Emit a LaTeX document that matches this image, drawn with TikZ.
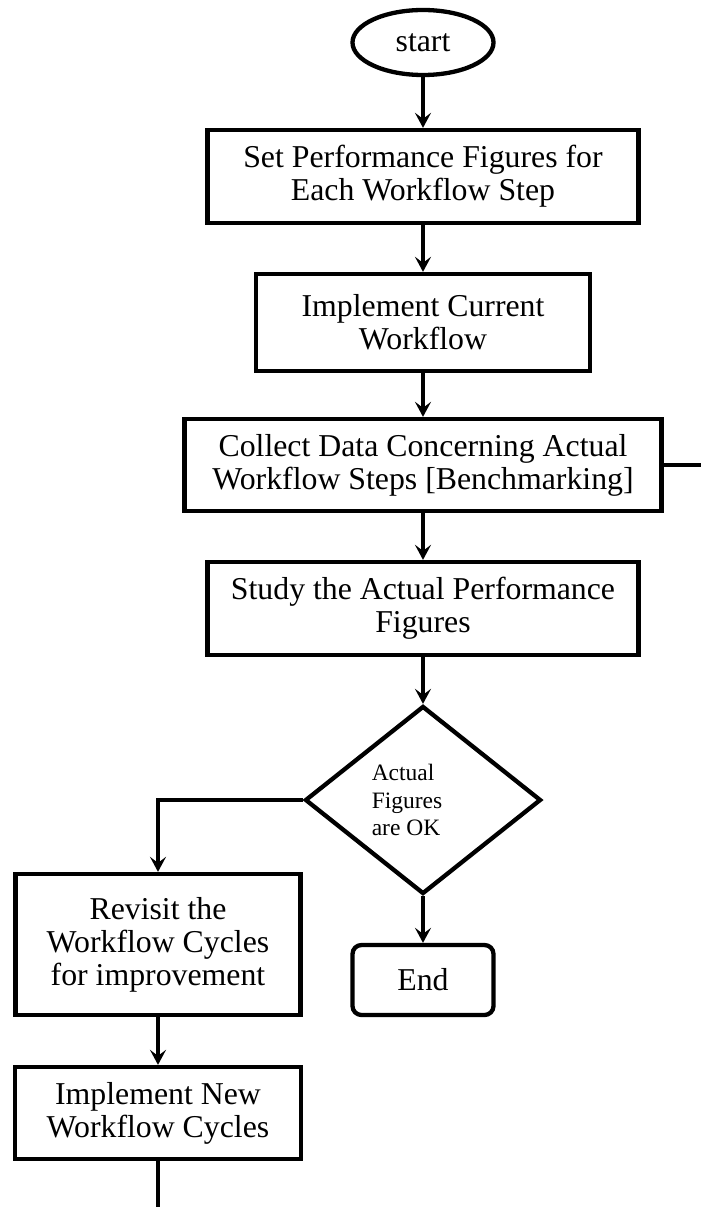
\documentclass[tikz,border=0pt]{standalone}
\usepackage{fontspec}
\setmainfont{Liberation Serif}
\usetikzlibrary{shapes.geometric,arrows.meta}
\tikzset{
  mainfont/.style={font=\fontsize{31.8}{33}\selectfont},
  procbox/.style={draw, line width=4.3pt, rectangle, align=center, inner sep=0pt, mainfont},
  termbox/.style={procbox, rounded corners=9pt},
  startshape/.style={draw, line width=4.3pt, ellipse, inner sep=0pt, mainfont},
  decision/.style={draw, line width=4.3pt, diamond, inner sep=0pt},
  dectxt/.style={align=left, inner sep=0pt, font=\fontsize{23.5}{27.5}\selectfont},
  flow/.style={line width=3.4pt, -{Stealth[length=15pt,width=16pt,inset=6pt]}},
  plainflow/.style={line width=3.4pt}
}
\begin{document}
\begin{tikzpicture}[x=1pt,y=-1pt]
\fill[white] (0,0) rectangle (701,1207);
\useasboundingbox (0,0) rectangle (701,1207);

\node[startshape, minimum width=141pt, minimum height=65pt] (start) at (423,42.5) {start};
\node[procbox, minimum width=431pt, minimum height=93pt] (b1) at (423,176.5) {Set Performance Figures for\\Each Workflow Step};
\node[procbox, minimum width=334pt, minimum height=97pt] (b2) at (423,322.5) {Implement Current\\Workflow};
\node[procbox, minimum width=477pt, minimum height=92pt] (b3) at (423,465) {Collect Data Concerning Actual\\Workflow Steps [Benchmarking]};
\node[procbox, minimum width=431pt, minimum height=93pt] (b4) at (423,608.5) {Study the Actual Performance\\Figures};
\node[decision, minimum width=236pt, minimum height=188pt] (dec) at (423,800) {};
\node[dectxt] (dectext) at (407,800) {Actual\\Figures\\are OK};
\node[procbox, minimum width=285pt, minimum height=141pt] (rev) at (158,944.5) {Revisit the\\Workflow Cycles\\for improvement};
\node[procbox, minimum width=286pt, minimum height=92pt] (impnew) at (158,1113) {Implement New\\Workflow Cycles};
\node[termbox, minimum width=141pt, minimum height=70pt] (end) at (423,980) {End};

\coordinate (rightend) at (701,465);
\coordinate (bottomend) at (158,1207);

\draw[flow] (start) -- (b1);
\draw[flow] (b1) -- (b2);
\draw[flow] (b2) -- (b3);
\draw[flow] (b3) -- (b4);
\draw[flow] (b4) -- (dec);
\draw[flow] (dec.south) -- (end);
\draw[flow, line width=4pt] (dec.west) -| (rev.north);
\draw[flow] (rev) -- (impnew);
\draw[plainflow] (impnew.south) -- (bottomend);
\draw[plainflow] (b3.east) -- (rightend);
\end{tikzpicture}
\end{document}
